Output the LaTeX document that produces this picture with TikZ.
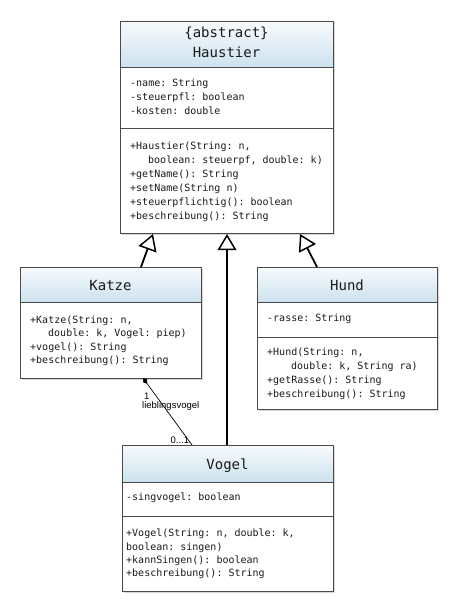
\documentclass[tikz,border=0pt]{standalone}
\usepackage{fontspec}
\setmonofont{DejaVu Sans Mono}
\setsansfont{Liberation Sans}
\usetikzlibrary{arrows.meta,shadows,calc}
\definecolor{bordercol}{HTML}{4A4A4A}
\definecolor{hdtop}{HTML}{F7FAFC}
\definecolor{hdbot}{HTML}{CDE2EF}
\definecolor{txtcol}{HTML}{1A1A1A}
\tikzset{
  cls/.style={draw=bordercol, fill=white, line width=0.8pt, inner sep=0pt, outer sep=0pt,
    drop shadow={shadow xshift=1.5pt, shadow yshift=-1.5pt, opacity=0.3}, anchor=north west},
  hdr/.style={draw=bordercol, line width=0.8pt, top color=hdtop, bottom color=hdbot},
  sepline/.style={draw=bordercol, line width=0.8pt},
  txt/.style={inner sep=0pt, anchor=base west, text=txtcol, font=\ttfamily\fontsize{10}{12}\selectfont},
  ttl/.style={inner sep=0pt, anchor=base, text=txtcol, font=\ttfamily\fontsize{14}{17}\selectfont},
  lbl/.style={inner sep=0pt, anchor=base west, text=black, font=\sffamily\fontsize{9.5}{11}\selectfont},
  gen/.style={line width=1.8pt, -{Triangle[open, width=14pt, length=12pt, line width=1.5pt, scale=1.35]}},
  assoc/.style={line width=0.7pt, {Diamond[width=5pt, length=7pt]}-}
}
\newcommand\umlrow[4]{\node[txt] (#1) at (#2,#3) {#4};}
\begin{document}
\begin{tikzpicture}[x=1pt,y=-1pt]
\useasboundingbox[fill=white] (0,0) rectangle (457,612);

% ---------- Haustier ----------
\node[cls, minimum width=213pt, minimum height=212pt] (haustier) at (120,21) {};
\draw[hdr] (haustier.north west) rectangle ($(haustier.north east)+(0,46)$);
\draw[sepline] ($(haustier.north west)+(0,107)$) -- ($(haustier.north east)+(0,107)$);
\node[ttl] (habs) at (226.5,38) {\{abstract\}};
\node[ttl] (hname) at (226.5,58) {Haustier};
\umlrow{ha1}{130}{86.7}{-name: String}
\umlrow{ha2}{130}{100.5}{-steuerpfl: boolean}
\umlrow{ha3}{130}{114.3}{-kosten: double}
\umlrow{hm1}{130}{150}{+Haustier(String: n,}
\umlrow{hm2}{148}{163.8}{boolean: steuerpf, double: k)}
\umlrow{hm3}{130}{177.6}{+getName(): String}
\umlrow{hm4}{130}{191.4}{+setName(String n)}
\umlrow{hm5}{130}{205.2}{+steuerpflichtig(): boolean}
\umlrow{hm6}{130}{219}{+beschreibung(): String}

% ---------- Katze ----------
\node[cls, minimum width=181pt, minimum height=111pt] (katze) at (20,267) {};
\draw[hdr] (katze.north west) rectangle ($(katze.north east)+(0,35)$);
\node[ttl] (kname) at (110.5,290) {Katze};
\umlrow{km1}{30}{323.3}{+Katze(String: n,}
\umlrow{km2}{48}{336.7}{double: k, Vogel: piep)}
\umlrow{km3}{30}{350}{+vogel(): String}
\umlrow{km4}{30}{363.3}{+beschreibung(): String}

% ---------- Hund ----------
\node[cls, minimum width=180pt, minimum height=142pt] (hund) at (257,267) {};
\draw[hdr] (hund.north west) rectangle ($(hund.north east)+(0,35)$);
\draw[sepline] ($(hund.north west)+(0,70)$) -- ($(hund.north east)+(0,70)$);
\node[ttl] (hname2) at (347,290) {Hund};
\umlrow{ua1}{267}{321.7}{-rasse: String}
\umlrow{um1}{267}{355.5}{+Hund(String: n,}
\umlrow{um2}{291}{369.5}{double: k, String ra)}
\umlrow{um3}{267}{383.4}{+getRasse(): String}
\umlrow{um4}{267}{397.3}{+beschreibung(): String}

% ---------- Vogel ----------
\node[cls, minimum width=211pt, minimum height=146pt] (vogel) at (122,445) {};
\draw[hdr] (vogel.north west) rectangle ($(vogel.north east)+(0,37)$);
\draw[sepline] ($(vogel.north west)+(0,71)$) -- ($(vogel.north east)+(0,71)$);
\node[ttl] (vname) at (227.5,469) {Vogel};
\umlrow{va1}{126}{500.7}{-singvogel: boolean}
\umlrow{vm1}{126}{536.7}{+Vogel(String: n, double: k,}
\umlrow{vm2}{126}{550}{boolean: singen)}
\umlrow{vm3}{126}{563.3}{+kannSingen(): boolean}
\umlrow{vm4}{126}{576.7}{+beschreibung(): String}

% ---------- connectors ----------
\draw[gen] ($(katze.north west)+(121,0)$) -- ($(haustier.south west)+(33,1)$);
\draw[gen] ($(vogel.north west)+(105,0)$) -- ($(haustier.south west)+(107,1)$);
\draw[gen] ($(hund.north west)+(60,0)$) -- ($(haustier.south west)+(180,1)$);
\draw[assoc] ($(katze.south west)+(123,0)$) -- ($(vogel.north west)+(70,0)$);
\node[lbl] (m1) at (144,399) {1};
\node[lbl] (rolename) at (142,408) {lieblingsvogel};
\node[lbl] (m2) at (170.5,443) {0...1};
\end{tikzpicture}
\end{document}
